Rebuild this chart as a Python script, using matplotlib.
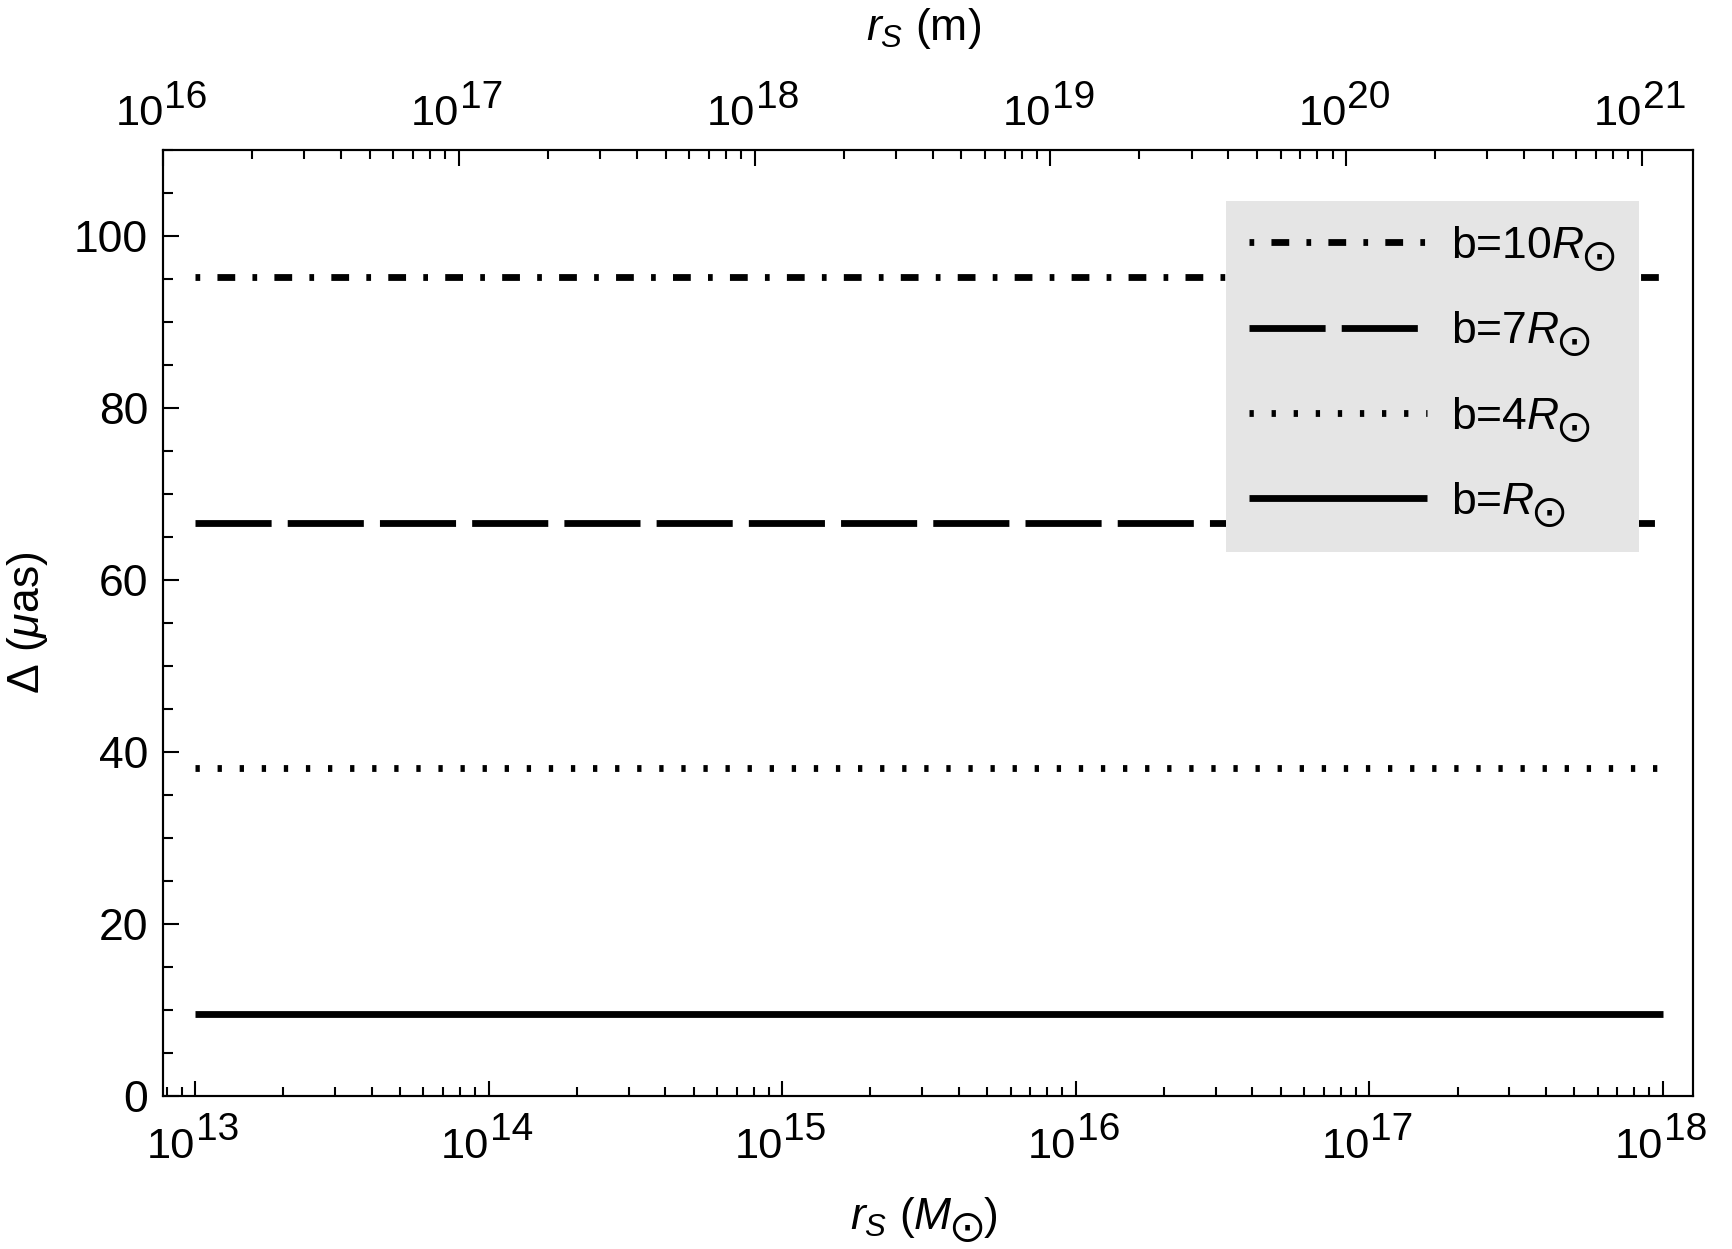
import numpy as np
import matplotlib
matplotlib.use("Agg")
import matplotlib.pyplot as plt
import matplotlib.ticker as mtick

# Configuration for a Mathematica-like look
plt.rcParams["font.family"] = ["Liberation Sans", "DejaVu Sans"]
plt.rcParams["mathtext.fontset"] = "custom"
plt.rcParams["mathtext.rm"] = "Liberation Sans"
plt.rcParams["mathtext.it"] = "Liberation Sans:italic"
plt.rcParams["mathtext.sf"] = "DejaVu Sans"
plt.rcParams["mathtext.fallback"] = "stixsans"
plt.rcParams["lines.scale_dashes"] = False

SUN = r"\mathsf{\bigodot}"

# values
rs_msun = [1e13, 1e18]            # span of the curves on the lower axis
b_values = [10, 7, 4, 1]          # impact parameter (solar radii)
delta_uas = [95.2, 66.6, 38.1, 9.52]
labels = [r"b=10$R_%s$" % SUN, r"b=7$R_%s$" % SUN, r"b=4$R_%s$" % SUN, r"b=$R_%s$" % SUN]
bottom_exps = [13, 14, 15, 16, 17, 18]
top_exps = [16, 17, 18, 19, 20, 21]
y_major = [0, 20, 40, 60, 80, 100]

styles = [(0, (1.7, 6.2, 6.4, 6.2)), (0, (27.4, 5.8)), (0, (1.55, 6.4)), "-"]
FONTSIZE = 16


def power_labels(ax, exps, y, base_dy, sup_dy):
    # "10" plus a large exponent, like Mathematica draws them
    tr = ax.get_xaxis_transform()
    for e in exps:
        ax.annotate("10", xy=(10.0**e, y), xycoords=tr, xytext=(0.2, base_dy),
                    textcoords="offset points", ha="right", va="baseline",
                    fontsize=15.6)
        ax.annotate(str(e), xy=(10.0**e, y), xycoords=tr, xytext=(0.4, sup_dy),
                    textcoords="offset points", ha="left", va="baseline",
                    fontsize=14)


fig = plt.figure(figsize=(8.66, 6.245), dpi=200)
ax = fig.add_axes([0.0943, 0.1225, 0.883, 0.7574])

for y, lab, ls in zip(delta_uas, labels, styles):
    ax.plot(rs_msun, [y, y], color="black", lw=2.45, ls=ls,
            solid_capstyle="butt", dash_capstyle="butt", label=lab)

ax.set_xscale("log")
ax.set_xlim(10**12.892, 10**18.102)
ax.set_ylim(0, 110)

ax.xaxis.set_major_locator(mtick.LogLocator(base=10, numticks=20))
ax.xaxis.set_minor_locator(mtick.LogLocator(base=10, subs=np.arange(2, 10), numticks=20))
ax.xaxis.set_major_formatter(mtick.NullFormatter())
ax.xaxis.set_minor_formatter(mtick.NullFormatter())
ax.yaxis.set_major_locator(mtick.FixedLocator(y_major))
ax.yaxis.set_minor_locator(mtick.MultipleLocator(5))

ax2 = ax.twiny()
ax2.set_xscale("log")
ax2.set_xlim(1e16, 10**21.172)
ax2.xaxis.set_major_locator(mtick.LogLocator(base=10, numticks=20))
ax2.xaxis.set_minor_locator(mtick.LogLocator(base=10, subs=np.arange(2, 10), numticks=20))
ax2.xaxis.set_major_formatter(mtick.NullFormatter())
ax2.xaxis.set_minor_formatter(mtick.NullFormatter())

ax.tick_params(axis="x", which="major", direction="in", length=5.3, width=0.75)
ax.tick_params(axis="x", which="minor", direction="in", length=3.3, width=0.75)
ax.tick_params(axis="y", which="major", direction="in", length=5.8, width=0.75,
               labelsize=FONTSIZE, pad=5.5, right=False)
ax.tick_params(axis="y", which="minor", direction="in", length=3.6, width=0.75, right=False)
ax2.tick_params(axis="x", which="major", direction="in", length=5.8, width=0.75)
ax2.tick_params(axis="x", which="minor", direction="in", length=3.4, width=0.75)
for a in (ax, ax2):
    for s in a.spines.values():
        s.set_linewidth(0.75)

power_labels(ax, bottom_exps, 0, -22.3, -15.8)
power_labels(ax2, top_exps, 1, 9.0, 15.1)

ax.set_ylabel(r"$\Delta$ ($\mu$as)", fontsize=FONTSIZE, labelpad=8.6)
ax.set_xlabel(r"$r_S$ ($M_%s$)" % SUN, fontsize=FONTSIZE)
ax.xaxis.set_label_coords(0.497, -0.105)
ax2.set_xlabel(r"$r_S$ (m)", fontsize=FONTSIZE)
ax2.xaxis.set_label_coords(0.497, 1.116)

ax.legend(loc="upper right", bbox_to_anchor=(0.965, 0.946), borderaxespad=0,
          frameon=True, fancybox=False, facecolor="#e5e5e5", edgecolor="none",
          framealpha=1, fontsize=FONTSIZE, handlelength=4.0, handletextpad=0.55,
          borderpad=0.52, labelspacing=0.82)

plt.savefig("out.png", dpi=200)
